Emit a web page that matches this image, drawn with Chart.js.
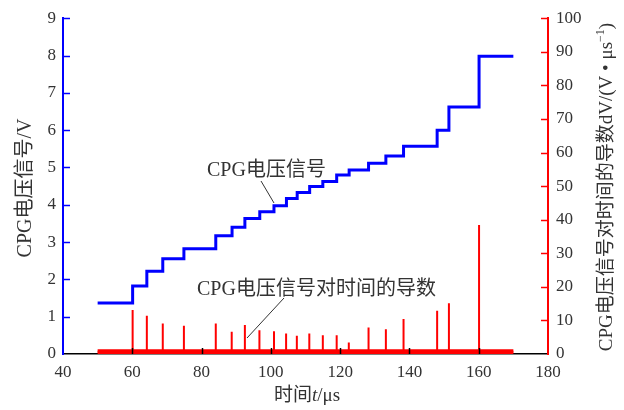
<!DOCTYPE html>
<html>
<head>
<meta charset="utf-8">
<script src="https://cdn.jsdelivr.net/npm/chart.js@4.4.0/dist/chart.umd.min.js"></script>
<style>
html, body { margin: 0; padding: 0; background: #fff; }
#wrap { width: 624px; height: 410px; }
</style>
</head>
<body>
<div id="wrap"><canvas id="chart"></canvas></div>
<script>
"use strict";

// CPG voltage signal: times (us) where each step begins and its level (V)
const stepTimes = [50, 60.1, 64.2, 68.8, 74.9, 84.1, 88.8, 92.5, 96.8, 100.9, 104.5, 107.6, 111.2, 115.0, 119.0, 122.6, 128.2, 133.2, 138.3, 148.0, 151.4, 160.1];
const stepLevels = [1.37, 1.82, 2.22, 2.55, 2.82, 3.17, 3.40, 3.63, 3.81, 3.97, 4.17, 4.33, 4.49, 4.62, 4.80, 4.93, 5.11, 5.31, 5.57, 6.00, 6.62, 7.98];
const endTime = 170;

// derivative spikes (V/us)
const spikeTimes = [60.1, 64.2, 68.8, 74.9, 84.1, 88.7, 92.5, 96.7, 100.9, 104.4, 107.5, 111.1, 115.0, 119.0, 122.5, 128.2, 133.2, 138.3, 148.0, 151.4, 160.1];
const spikePeaks = [13.1, 11.4, 9.1, 8.4, 9.1, 6.6, 8.6, 7.1, 6.8, 6.1, 5.4, 6.1, 5.6, 5.6, 3.4, 7.9, 7.4, 10.4, 12.9, 15.1, 38.4];
const noiseLevel = 0.7;

const xTicks = [40, 60, 80, 100, 120, 140, 160, 180];
const leftTicks = [0, 1, 2, 3, 4, 5, 6, 7, 8, 9];
const rightTicks = [0, 10, 20, 30, 40, 50, 60, 70, 80, 90, 100];

const serif = "'Liberation Serif', 'Noto Sans CJK SC', serif";
const textColor = "#333";

let bluePts = stepTimes.map((t, i) => ({x: t, y: stepLevels[i]}));
bluePts.push({x: endTime, y: stepLevels[stepLevels.length - 1]});

let redPts = [{x: stepTimes[0], y: noiseLevel}];
spikeTimes.forEach((t, i) => {
    redPts.push({x: t, y: noiseLevel});
    redPts.push({x: t, y: spikePeaks[i]});
    redPts.push({x: t, y: noiseLevel});
});
redPts.push({x: endTime, y: noiseLevel});

let noisePts = [{x: stepTimes[0], y: noiseLevel}, {x: endTime, y: noiseLevel}];

const extras = {
    id: "extras",
    afterDraw(chart) {
        const ctx = chart.ctx;
        const sx = chart.scales.x, sy = chart.scales.y, sy1 = chart.scales.y1;
        const area = chart.chartArea;
        ctx.save();

        // inward ticks
        ctx.lineWidth = 1.5;
        ctx.strokeStyle = "#000";
        xTicks.slice(1, -1).forEach(v => {
            let px = Math.round(sx.getPixelForValue(v)) + 0.5;
            ctx.beginPath(); ctx.moveTo(px, area.bottom); ctx.lineTo(px, area.bottom - 6); ctx.stroke();
        });
        ctx.strokeStyle = "#0000ff";
        leftTicks.slice(1).forEach(v => {
            let py = Math.round(sy.getPixelForValue(v)) + 0.5;
            ctx.beginPath(); ctx.moveTo(area.left, py); ctx.lineTo(area.left + 7, py); ctx.stroke();
        });
        ctx.strokeStyle = "#ff0000";
        rightTicks.slice(1).forEach(v => {
            let py = Math.round(sy1.getPixelForValue(v)) + 0.5;
            ctx.beginPath(); ctx.moveTo(area.right, py); ctx.lineTo(area.right - 7, py); ctx.stroke();
        });

        // annotations
        ctx.fillStyle = textColor;
        ctx.font = "20px " + serif;
        ctx.textAlign = "left";
        ctx.textBaseline = "alphabetic";
        ctx.fillText("CPG电压信号", 207, 176);
        ctx.fillText("CPG电压信号对时间的导数", 197, 295);
        ctx.strokeStyle = "#333";
        ctx.lineWidth = 1;
        ctx.beginPath(); ctx.moveTo(261, 181); ctx.lineTo(274, 203); ctx.stroke();
        ctx.beginPath(); ctx.moveTo(284, 298); ctx.lineTo(247, 338); ctx.stroke();

        // x title with italic t
        let parts = [["时间", "19px " + serif], ["t", "italic 19px " + serif], ["/μs", "19px " + serif]];
        let total = 0;
        parts.forEach(p => { ctx.font = p[1]; total += ctx.measureText(p[0]).width; });
        let cx = 307 - total / 2;
        parts.forEach(p => { ctx.font = p[1]; ctx.fillText(p[0], cx, 401); cx += ctx.measureText(p[0]).width; });

        // left title
        ctx.save();
        ctx.translate(31, 188);
        ctx.rotate(-Math.PI / 2);
        ctx.font = "20px " + serif;
        ctx.textAlign = "center";
        ctx.fillText("CPG电压信号/V", 0, 0);
        ctx.restore();

        // right title with superscript
        ctx.save();
        ctx.translate(612, 187);
        ctx.rotate(-Math.PI / 2);
        ctx.textAlign = "left";
        const mainTxt = "CPG电压信号对时间的导数dV/(V • μs";
        ctx.font = "19px " + serif;
        let w1 = ctx.measureText(mainTxt).width;
        ctx.font = "12px " + serif;
        let w2 = ctx.measureText("−1").width;
        ctx.font = "19px " + serif;
        let w3 = ctx.measureText(")").width;
        let start = -(w1 + w2 + w3) / 2;
        ctx.fillText(mainTxt, start, 0);
        ctx.font = "12px " + serif;
        ctx.fillText("−1", start + w1, -8);
        ctx.font = "19px " + serif;
        ctx.fillText(")", start + w1 + w2, 0);
        ctx.restore();

        ctx.restore();
    }
};

new Chart(document.getElementById("chart"), {
    type: "line",
    data: {
        datasets: [
            {
                label: "噪声",
                data: noisePts,
                yAxisID: "y1",
                borderColor: "#ff0000",
                borderWidth: 5,
                pointRadius: 0,
                order: 3
            },
            {
                label: "CPG电压信号导数",
                data: redPts,
                yAxisID: "y1",
                borderColor: "#ff0000",
                borderWidth: 2,
                pointRadius: 0,
                tension: 0,
                order: 2
            },
            {
                label: "CPG电压信号",
                data: bluePts,
                yAxisID: "y",
                borderColor: "#0000ff",
                borderWidth: 3,
                pointRadius: 0,
                stepped: "before",
                order: 1
            }
        ]
    },
    plugins: [extras],
    options: {
        responsive: true,
        maintainAspectRatio: false,
        animation: false,
        layout: { padding: { top: 18, left: 0, right: 0, bottom: 0 } },
        plugins: { legend: { display: false }, tooltip: { enabled: false } },
        scales: {
            x: {
                type: "linear",
                min: 40,
                max: 180,
                afterFit: s => { s.height = 56; },
                afterBuildTicks: s => { s.ticks = xTicks.map(v => ({value: v})); },
                grid: { display: false, drawTicks: false },
                border: { display: true, color: "#000", width: 1.5 },
                ticks: { color: textColor, font: { family: serif, size: 17 }, padding: 8, maxRotation: 0 }
            },
            y: {
                position: "left",
                min: 0,
                max: 9,
                afterFit: s => { s.width = 63; },
                afterBuildTicks: s => { s.ticks = leftTicks.map(v => ({value: v})); },
                grid: { display: false, drawTicks: false },
                border: { display: true, color: "#0000ff", width: 2 },
                ticks: { color: textColor, font: { family: serif, size: 17 }, padding: 7 }
            },
            y1: {
                position: "right",
                min: 0,
                max: 100,
                afterFit: s => { s.width = 76; },
                afterBuildTicks: s => { s.ticks = rightTicks.map(v => ({value: v})); },
                grid: { display: false, drawTicks: false },
                border: { display: true, color: "#ff0000", width: 2 },
                ticks: { color: textColor, font: { family: serif, size: 17 }, padding: 8 }
            }
        }
    }
});
</script>
</body>
</html>
